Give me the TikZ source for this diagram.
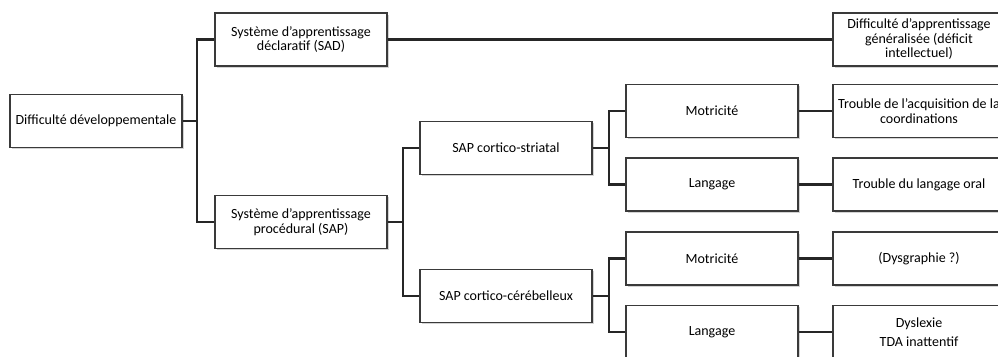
\documentclass[tikz,border=0pt]{standalone}
\usepackage{fontspec}
\setmainfont{Carlito}
\usetikzlibrary{shadows}
\definecolor{boxline}{HTML}{3A3A3A}
\definecolor{conncol}{HTML}{262626}
\tikzset{
  box/.style={draw=boxline, line width=1.2pt, fill=white, minimum width=172pt, minimum height=53pt,
    inner xsep=0pt, align=center, font=\fontsize{14}{14.5}\selectfont,
    drop shadow={opacity=0.35, shadow xshift=1.5pt, shadow yshift=-1.5pt}},
  conn/.style={draw=conncol, line width=2.9pt}
}
\begin{document}
\begin{tikzpicture}[x=1pt,y=-1pt]
\useasboundingbox (0,0) rectangle (998,356);
\clip (0,0) rectangle (998,356);
\coordinate (b1) at (197,121);
\coordinate (b2) at (403,222);
\coordinate (b3) at (609,148);
\coordinate (b4) at (609,296);
\node[box] (root) at (96,121) {Difficulté développementale};
\node[box] (sad) at (301,39.5) {Système d’apprentissage\\déclaratif (SAD)};
\node[box] (sap) at (301,222) {Système d’apprentissage\\procédural (SAP)};
\node[box] (str) at (506,148) {SAP cortico-striatal};
\node[box] (cer) at (506,296) {SAP cortico-cérébelleux};
\node[box] (m1) at (712,111) {Motricité};
\node[box] (l1) at (712,184.5) {Langage};
\node[box] (m2) at (712,258.5) {Motricité};
\node[box] (l2) at (712,332) {Langage};
\node[box] (dif) at (919,39.5) {Difficulté d’apprentissage\\généralisée (déficit\\intellectuel)};
\node[box] (tac) at (919,111) {Trouble de l’acquisition de la\\coordinations};
\node[box] (tlo) at (919,184.5) {Trouble du langage oral};
\node[box] (dys) at (919,258.5) {(Dysgraphie ?)};
\node[box, font=\fontsize{14}{19}\selectfont] (dyx) at (919,332) {Dyslexie\\TDA inattentif};
\draw[conn] (root.east) -- (b1);
\draw[conn] (sad.west) -| (b1);
\draw[conn] (sap.west) -| (b1);
\draw[conn] (sap.east) -- (b2);
\draw[conn] (str.west) -| (b2);
\draw[conn] (cer.west) -| (b2);
\draw[conn] (str.east) -- (b3);
\draw[conn] (m1.west) -| (b3);
\draw[conn] (l1.west) -| (b3);
\draw[conn] (cer.east) -- (b4);
\draw[conn] (m2.west) -| (b4);
\draw[conn] (l2.west) -| (b4);
\draw[conn] (sad.east) -- (dif.west);
\draw[conn] (m1.east) -- (tac.west);
\draw[conn] (l1.east) -- (tlo.west);
\draw[conn] (m2.east) -- (dys.west);
\draw[conn] (l2.east) -- (dyx.west);
\end{tikzpicture}
\end{document}
